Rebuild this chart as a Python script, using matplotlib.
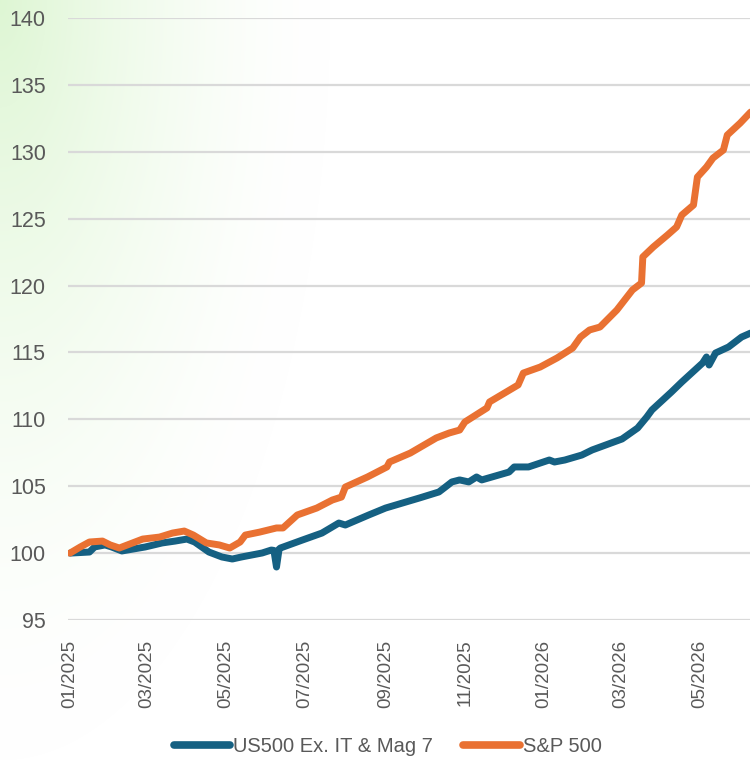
import numpy as np
import pandas as pd
import matplotlib
matplotlib.use("Agg")
import matplotlib.pyplot as plt
import matplotlib.dates as mdates
from matplotlib import font_manager

# Index levels (start = 100)
sp500_dates = [
    "2025-01-01", "2025-01-09", "2025-01-16", "2025-01-26", "2025-02-01", "2025-02-08",
    "2025-02-26", "2025-03-11", "2025-03-21", "2025-03-30", "2025-04-06", "2025-04-16",
    "2025-04-26", "2025-05-04", "2025-05-12", "2025-05-16", "2025-05-27", "2025-06-09",
    "2025-06-14", "2025-06-25", "2025-07-10", "2025-07-22", "2025-07-29", "2025-08-01",
    "2025-08-18", "2025-09-02", "2025-09-04", "2025-09-20", "2025-10-10", "2025-10-20",
    "2025-10-28", "2025-11-01", "2025-11-18", "2025-11-20", "2025-12-12", "2025-12-16",
    "2025-12-29", "2026-01-11", "2026-01-23", "2026-01-29", "2026-02-05", "2026-02-13",
    "2026-02-26", "2026-03-10", "2026-03-17", "2026-03-18", "2026-03-26", "2026-04-06",
    "2026-04-13", "2026-04-17", "2026-04-26", "2026-04-29", "2026-05-06", "2026-05-11",
    "2026-05-19", "2026-05-22", "2026-06-01", "2026-06-09",
]
sp500_values = [
    100.0, 100.46, 100.83, 100.90, 100.61, 100.38,
    101.05, 101.20, 101.50, 101.65, 101.35, 100.76,
    100.61, 100.38, 100.83, 101.35, 101.57, 101.88,
    101.88, 102.85, 103.37, 103.97, 104.19, 104.94,
    105.69, 106.44, 106.81, 107.48, 108.61, 108.98,
    109.20, 109.80, 110.85, 111.30, 112.57, 113.46,
    113.91, 114.59, 115.33, 116.15, 116.68, 116.90,
    118.17, 119.67, 120.19, 122.14, 122.88, 123.78,
    124.38, 125.27, 126.02, 128.11, 128.86, 129.53,
    130.13, 131.25, 132.15, 132.97,
]

exit_dates = [
    "2025-01-01", "2025-01-16", "2025-01-20", "2025-01-28", "2025-02-02", "2025-02-10",
    "2025-02-28", "2025-03-13", "2025-03-23", "2025-04-01", "2025-04-07", "2025-04-18",
    "2025-04-28", "2025-05-06", "2025-05-13", "2025-05-29", "2025-06-05", "2025-06-07",
    "2025-06-09", "2025-06-11", "2025-06-12", "2025-06-29", "2025-07-14", "2025-07-27",
    "2025-08-01", "2025-08-19", "2025-09-01", "2025-09-27", "2025-10-12", "2025-10-17",
    "2025-10-22", "2025-10-28", "2025-11-04", "2025-11-10", "2025-11-14", "2025-12-05",
    "2025-12-09", "2025-12-20", "2026-01-05", "2026-01-09", "2026-01-17", "2026-01-30",
    "2026-02-07", "2026-03-02", "2026-03-14", "2026-03-21", "2026-03-25", "2026-04-09",
    "2026-04-17", "2026-05-03", "2026-05-06", "2026-05-08", "2026-05-13", "2026-05-23",
    "2026-06-02", "2026-06-09",
]
exit_values = [
    100.0, 100.08, 100.46, 100.61, 100.46, 100.16,
    100.46, 100.76, 100.90, 101.05, 100.83, 100.08,
    99.71, 99.56, 99.71, 100.01, 100.23, 100.20,
    98.96, 100.30, 100.38, 100.98, 101.50, 102.25,
    102.10, 102.85, 103.37, 104.12, 104.57, 104.94,
    105.32, 105.47, 105.32, 105.69, 105.47, 106.06,
    106.44, 106.44, 106.96, 106.81, 106.96, 107.33,
    107.71, 108.53, 109.35, 110.17, 110.70, 112.04,
    112.79, 114.21, 114.66, 114.06, 114.96, 115.41,
    116.15, 116.45,
]

series_names = ["US500 Ex. IT & Mag 7", "S&P 500"]
y_ticks = [95, 100, 105, 110, 115, 120, 125, 130, 135, 140]

BLUE = "#156082"
ORANGE = "#E97132"
TEXT = "#595959"
GRID = "#d9d9d9"

plt.rcParams["font.family"] = ["Liberation Sans", "DejaVu Sans"]

# condensed face for the date labels and legend, when available
installed = {f.name for f in font_manager.fontManager.ttflist}
if "Liberation Sans Narrow" in installed:
    narrow = ["Liberation Sans Narrow", "DejaVu Sans"]
    xsize, legsize = 16.5, 17.0
else:
    narrow = ["Liberation Sans", "DejaVu Sans"]
    xsize, legsize = 13.5, 14.5

W, H = 750, 761
fig = plt.figure(figsize=(W / 100, H / 100), dpi=100)

# soft green wash in the upper-left corner
bg = fig.add_axes([0, 0, 1, 1], zorder=-10)
yy, xx = np.mgrid[0:H, 0:W]
d = np.sqrt((xx / 330.0) ** 2 + (yy / 760.0) ** 2)
k = np.clip(1 - d, 0, 1) ** 1.6
green = np.array([0.87, 0.965, 0.83])
img = 1 - k[..., None] * (1 - green)[None, None, :]
bg.imshow(img, extent=[0, 1, 0, 1], aspect="auto", origin="upper")
bg.set_axis_off()

top = 1 - 18 / H
bottom = 1 - 620 / H
left = 68 / W
ax = fig.add_axes([left, bottom, 1 - left, top - bottom])
ax.patch.set_alpha(0)

x_orange = pd.to_datetime(sp500_dates)
x_blue = pd.to_datetime(exit_dates)

ax.plot(x_blue, exit_values, color=BLUE, lw=5.0, solid_joinstyle="round",
        solid_capstyle="round", label=series_names[0], zorder=3)
ax.plot(x_orange, sp500_values, color=ORANGE, lw=5.0, solid_joinstyle="round",
        solid_capstyle="round", label=series_names[1], zorder=4)

ax.set_ylim(95, 140)
ax.set_yticks(y_ticks)
start = pd.Timestamp("2025-01-01")
ax.set_xlim(start - pd.Timedelta(days=1.5), start + pd.Timedelta(days=523.5))
ax.set_xticks(pd.date_range("2025-01-01", "2026-05-01", freq="2MS"))
ax.xaxis.set_major_formatter(mdates.DateFormatter("%m/%Y"))

ax.grid(axis="y", color=GRID, lw=1.6)
ax.set_axisbelow(True)
for s in ax.spines.values():
    s.set_visible(False)
ax.tick_params(axis="y", length=0, pad=16, labelsize=15.5, labelcolor=TEXT)
ax.tick_params(axis="x", length=0, pad=14, labelsize=xsize, labelcolor=TEXT,
               labelrotation=90)
for lbl in ax.get_xticklabels():
    lbl.set_family(narrow)

leg = fig.legend(loc="center", bbox_to_anchor=(0.517, 1 - 747 / H), ncol=2,
                 frameon=False, handlelength=2.8, handletextpad=0.15,
                 columnspacing=1.5, labelcolor=TEXT,
                 prop={"family": narrow, "size": legsize})
for h in leg.get_lines():
    h.set_linewidth(5.5)
    h.set_solid_capstyle("round")

fig.savefig("out.png", dpi=100)
